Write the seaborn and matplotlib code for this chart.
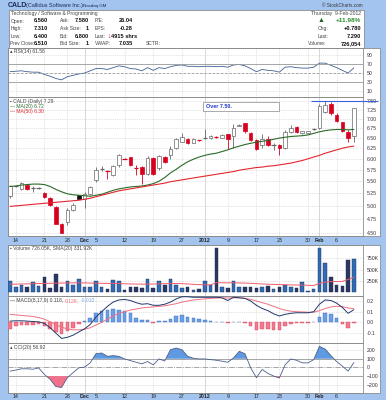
import numpy as np
import matplotlib
matplotlib.use("Agg")
import matplotlib.pyplot as plt
import matplotlib.transforms as mtrans
from matplotlib.patches import Rectangle
from matplotlib.ticker import NullLocator
import seaborn as sns

sns.set_style("white")
plt.rcParams["font.family"] = ["Liberation Sans", "DejaVu Sans"]

# ---- data (CALD daily, 11-Nov-2011 .. 9-Feb-2012) ----
opens = [5.19, 5.39, 5.34, 5.42, 5.35, 5.36, 5.26, 5.16, 4.98, 4.67,
         4.69, 4.93, 5.21, 5.13, 5.24, 5.53, 5.76, 5.72, 5.64, 5.85,
         6.00, 6.03, 5.80, 5.82, 5.66, 6.02, 5.78, 6.05, 6.08, 6.26,
         6.41, 6.48, 6.38, 6.44, 6.50, 6.49, 6.52, 6.51, 6.60, 6.55,
         6.81, 6.89, 6.64, 6.46, 6.34, 6.48, 6.34, 6.34, 6.26, 6.66,
         6.78, 6.62, 6.62, 6.73, 6.75, 7.20, 7.41, 7.11, 6.91, 6.66, 6.56]
highs = [5.42, 5.41, 5.48, 5.43, 5.40, 5.38, 5.27, 5.17, 4.99, 4.68,
         4.96, 5.05, 5.22, 5.27, 5.39, 5.82, 5.83, 5.75, 5.85, 6.10,
         6.01, 6.04, 5.85, 5.84, 6.06, 6.03, 6.08, 6.06, 6.30, 6.50,
         6.64, 6.49, 6.49, 6.45, 6.72, 6.57, 6.56, 6.61, 6.61, 6.87,
         6.86, 6.90, 6.66, 6.48, 6.60, 6.55, 6.37, 6.36, 6.70, 6.85,
         6.80, 6.68, 6.69, 6.77, 7.42, 7.51, 7.47, 7.15, 6.93, 6.70, 7.31]
lows = [5.16, 5.37, 5.32, 5.32, 5.28, 5.33, 5.16, 4.99, 4.66, 4.50,
        4.64, 4.90, 5.13, 4.96, 5.22, 5.48, 5.72, 5.54, 5.62, 5.82,
        5.99, 5.84, 5.63, 5.44, 5.64, 5.64, 5.75, 5.91, 5.99, 6.24,
        6.40, 6.36, 6.37, 6.43, 6.48, 6.47, 6.49, 6.49, 6.22, 6.25,
        6.80, 6.64, 6.42, 6.20, 6.25, 6.30, 6.20, 6.08, 6.24, 6.62,
        6.64, 6.60, 6.60, 6.70, 6.73, 7.15, 7.12, 6.92, 6.66, 6.41, 6.40]
closes = [5.39, 5.39, 5.46, 5.33, 5.35, 5.36, 5.17, 5.01, 4.67, 4.51,
          4.93, 5.02, 5.14, 5.24, 5.37, 5.75, 5.76, 5.72, 5.83, 6.08,
          6.00, 5.85, 5.80, 5.65, 6.02, 5.65, 6.06, 5.92, 6.24, 6.48,
          6.52, 6.37, 6.47, 6.44, 6.50, 6.55, 6.52, 6.58, 6.48, 6.77,
          6.84, 6.67, 6.44, 6.22, 6.48, 6.33, 6.34, 6.26, 6.66, 6.76,
          6.66, 6.67, 6.68, 6.73, 7.36, 7.39, 7.15, 6.95, 6.68, 6.51, 7.29]
ma20 = [5.39, 5.40, 5.42, 5.43, 5.44, 5.44, 5.43, 5.39, 5.33, 5.28,
        5.24, 5.22, 5.21, 5.20, 5.19, 5.21, 5.23, 5.27, 5.31, 5.34,
        5.36, 5.38, 5.39, 5.40, 5.42, 5.45, 5.50, 5.58, 5.68, 5.76,
        5.85, 5.93, 5.99, 6.04, 6.08, 6.11, 6.13, 6.17, 6.21, 6.26,
        6.30, 6.34, 6.37, 6.40, 6.42, 6.44, 6.47, 6.50, 6.52, 6.54,
        6.55, 6.56, 6.58, 6.62, 6.66, 6.69, 6.71, 6.72, 6.72, 6.71, 6.72]
ma50 = [4.99, 5.00, 5.01, 5.02, 5.03, 5.04, 5.05, 5.06, 5.07, 5.08,
        5.09, 5.10, 5.11, 5.13, 5.15, 5.18, 5.21, 5.24, 5.27, 5.30,
        5.32, 5.34, 5.36, 5.38, 5.40, 5.42, 5.44, 5.46, 5.49, 5.51,
        5.53, 5.55, 5.57, 5.59, 5.61, 5.63, 5.65, 5.67, 5.69, 5.71,
        5.74, 5.76, 5.78, 5.80, 5.81, 5.83, 5.84, 5.86, 5.88, 5.90,
        5.93, 5.96, 6.00, 6.04, 6.08, 6.13, 6.17, 6.21, 6.25, 6.28, 6.30]
volume_k = [250, 125, 162, 110, 221, 147, 338, 88, 404, 125,
            250, 162, 294, 125, 125, 250, 110, 81, 272, 250,
            51, 125, 125, 96, 287, 96, 250, 162, 301, 162,
            103, 110, 51, 66, 250, 162, 970, 110, 96, 250,
            125, 125, 125, 103, 125, 140, 74, 125, 162, 110,
            96, 221, 37, 81, 970, 640, 343, 162, 140, 713, 726]
vol_sma_k = [180, 182, 185, 188, 192, 195, 198, 200, 204, 206,
             208, 210, 210, 208, 205, 202, 200, 198, 196, 194,
             190, 186, 184, 182, 182, 184, 188, 192, 196, 196,
             192, 185, 178, 170, 168, 165, 215, 212, 210, 212,
             208, 205, 200, 192, 186, 180, 176, 172, 168, 165,
             162, 160, 156, 152, 195, 225, 238, 240, 242, 285, 332]
rsi = [53, 54, 55, 53, 52, 52, 47, 43, 38, 35,
       42, 45, 48, 50, 55, 60, 60, 58, 62, 66,
       64, 60, 59, 55, 62, 56, 62, 60, 64, 67,
       68, 65, 65, 64, 65, 65, 64, 65, 63, 68,
       69, 66, 60, 53, 58, 56, 55, 52, 63, 64,
       62, 61, 61, 63, 72, 72, 67, 62, 56, 50, 61.56]
macd = [0.012, 0.015, 0.015, 0.012, 0.008, 0.005, -0.01, -0.05, -0.10, -0.15,
        -0.14, -0.12, -0.09, -0.06, -0.02, 0.05, 0.10, 0.15, 0.19, 0.21,
        0.215, 0.205, 0.185, 0.17, 0.175, 0.16, 0.16, 0.17, 0.19, 0.22,
        0.24, 0.24, 0.235, 0.235, 0.235, 0.235, 0.235, 0.23, 0.205, 0.235,
        0.23, 0.225, 0.20, 0.16, 0.13, 0.11, 0.08, 0.06, 0.075, 0.085,
        0.09, 0.09, 0.09, 0.10, 0.17, 0.21, 0.205, 0.18, 0.14, 0.085, 0.118]
signal = [0.075, 0.07, 0.065, 0.06, 0.055, 0.045, 0.03, 0.005, -0.02, -0.045,
          -0.06, -0.07, -0.07, -0.065, -0.05, -0.025, 0.0, 0.03, 0.06, 0.085,
          0.10, 0.115, 0.125, 0.135, 0.14, 0.145, 0.15, 0.155, 0.165, 0.175,
          0.19, 0.20, 0.21, 0.215, 0.22, 0.225, 0.228, 0.23, 0.228, 0.23,
          0.23, 0.225, 0.215, 0.20, 0.185, 0.17, 0.15, 0.13, 0.115, 0.105,
          0.10, 0.098, 0.095, 0.095, 0.11, 0.13, 0.145, 0.15, 0.148, 0.135, 0.128]
hist = [-0.06, -0.034, -0.02, -0.02, -0.02, -0.016, -0.034, -0.066, -0.088, -0.106,
        -0.08, -0.05, -0.016, 0.012, 0.044, 0.09, 0.106, 0.12, 0.128, 0.12,
        0.106, 0.084, 0.044, 0.022, 0.022, -0.01, 0.01, 0.01, 0.028, 0.06,
        0.068, 0.052, 0.04, 0.028, 0.022, 0.016, 0.006, 0.003, -0.01, 0.004,
        0.006, -0.01, -0.034, -0.072, -0.066, -0.066, -0.072, -0.072, -0.034, -0.016,
        -0.01, -0.006, -0.006, 0.0, 0.052, 0.084, 0.075, 0.038, -0.019, -0.05, -0.010]
cci = [-42, -30, -15, -15, -20, -5, -80, -136, -219, -230,
       -117, -60, -4, 4, 53, 158, 166, 128, 136, 128,
       98, 79, 60, 42, 68, 30, 98, 75, 204, 223,
       204, 128, 106, 98, 98, 90, 83, 72, 60, 109,
       185, 158, -4, -117, -23, -68, -98, -121, 30, 98,
       83, 53, 53, 90, 242, 211, 136, 68, 15, -42, 56.92]

date_ticks = [1, 6, 10, 13, 15, 20, 25, 30, 34, 38, 43, 47, 52, 54, 57]
date_labels = ["14", "21", "28", "Dec", "5", "12", "19", "27", "2012",
               "9", "17", "23", "30", "Feb", "6"]
month_ticks = [13, 34, 54]
price_ticks = [4.50, 4.75, 5.00, 5.25, 5.50, 5.75, 6.00, 6.25, 6.50,
               6.75, 7.00, 7.25, 7.50]
alert_level = 7.50

idx = np.arange(len(closes))
o = np.array(opens); h = np.array(highs); l = np.array(lows); c = np.array(closes)
prev = np.r_[c[0] - 0.01, c[:-1]]
down = c < prev

BG = "#a3c4ee"
FRAME = "#8c8c8c"
GRID = "#c9c9c9"
RED = "#d8001f"
W, H = 386, 400

fig = plt.figure(figsize=(W / 100, H / 100), dpi=100)
fig.patch.set_facecolor(BG)


def pax(x0, y0, x1, y1):
    return fig.add_axes([x0 / W, 1 - y1 / H, (x1 - x0) / W, (y1 - y0) / H])


bg = pax(0, 0, W, H)
bg.set_xlim(0, W); bg.set_ylim(H, 0); bg.axis("off")
bg.add_patch(Rectangle((8, 48), 372, 188, fc="white", ec=FRAME, lw=0.6))
bg.add_patch(Rectangle((8, 245), 372, 148, fc="white", ec=FRAME, lw=0.6))
bg.add_patch(Rectangle((9, 10), 355, 38, fc="white", ec=FRAME, lw=0.6))

ax_r = pax(8, 48, 363, 97)
ax_p = pax(8, 97, 363, 236)
ax_v = pax(8, 245, 363, 296)
ax_m = pax(8, 296, 363, 343)
ax_c = pax(8, 343, 363, 393)
panels = [ax_r, ax_p, ax_v, ax_m, ax_c]

for ax in panels:
    ax.set_facecolor("none")
    ax.set_xlim(-0.35, 61.6)
    ax.set_xticks(date_ticks)
    ax.tick_params(axis="x", length=0, labelbottom=False)
    ax.yaxis.tick_right()
    ax.tick_params(axis="y", length=0, pad=2.5, labelsize=3.7, labelcolor="#333333")
    ax.grid(True, color=GRID, ls=":", lw=0.5)
    for t in month_ticks:
        ax.axvline(t, color="#d0d0d0", lw=0.5, zorder=0)
    for s in ax.spines.values():
        s.set_color(FRAME); s.set_linewidth(0.6)

# ---- RSI ----
sns.lineplot(x=idx, y=rsi, ax=ax_r, color="#3f5f95", lw=0.6)
ax_r.set_ylim(-3, 105.5)
ax_r.set_yticks([10, 30, 50, 70, 90])
ax_r.axhline(70, color="#9a9a9a", lw=0.6)
ax_r.axhline(30, color="#9a9a9a", lw=0.6)
ax_r.axhline(50, color="#9a9a9a", lw=0.6, ls=(0, (3, 2)))

# ---- price candles ----
ax_p.set_yscale("log")
for i in idx:
    if down[i]:
        col = RED
    else:
        col = "#111111" if c[i] < o[i] else "#666666"
    ax_p.vlines(i, l[i], h[i], color=col, lw=0.6, zorder=3)
    if abs(c[i] - o[i]) < 0.015:
        ax_p.hlines(c[i], i - 0.38, i + 0.38, color=col, lw=0.9, zorder=4)
    else:
        fill = col if c[i] < o[i] else "white"
        ax_p.bar(i, abs(c[i] - o[i]), bottom=min(o[i], c[i]), width=0.62,
                 color=fill, edgecolor=col, lw=0.5, zorder=4)
sns.lineplot(x=idx, y=ma20, ax=ax_p, color="#2a6b2a", lw=0.8, zorder=5)
sns.lineplot(x=idx, y=ma50, ax=ax_p, color="#e3262e", lw=0.8, zorder=5)
ax_p.hlines(alert_level, 52.6, 64.2, color="#3d5fe0", lw=0.8, zorder=6, clip_on=False)
ax_p.set_ylim(4.45, 7.62)
ax_p.set_yticks(price_ticks)
ax_p.set_yticklabels([f"{t:.2f}" for t in price_ticks])
ax_p.yaxis.set_minor_locator(NullLocator())

# ---- volume ----
vol = np.array(volume_k) * 1000
vcol = np.where(down, "#2b3760", "#2f6cb4")
ax_v.bar(idx, vol, width=0.62, color=vcol, edgecolor="#1e2e55", lw=0.3, zorder=3)
sns.lineplot(x=idx, y=np.array(vol_sma_k) * 1000, ax=ax_v, color="#f05a6a", lw=0.7, zorder=4)
ax_v.set_ylim(-80e3, 1.045e6)
ax_v.set_yticks([250e3, 500e3, 750e3])
ax_v.set_yticklabels(["250K", "500K", "750K"])

# ---- MACD ----
hv = np.array(hist)
ax_m.bar(idx, hv, width=0.62, color=np.where(hv >= 0, "#6b9fe6", "#f27a8e"),
         edgecolor=np.where(hv >= 0, "#3d6cc0", "#d54860"), lw=0.3, zorder=3)
sns.lineplot(x=idx, y=signal, ax=ax_m, color="#f0707e", lw=0.7, zorder=4)
sns.lineplot(x=idx, y=macd, ax=ax_m, color="#22386c", lw=0.7, zorder=5)
ax_m.set_ylim(-0.193, 0.247)
ax_m.set_yticks([-0.1, 0.0, 0.1, 0.2])
ax_m.set_yticklabels(["-0.1", "0.0", "0.1", "0.2"])

# ---- CCI ----
cv = np.array(cci, dtype=float)
ax_c.fill_between(idx, cv, 100, where=cv > 100, interpolate=True, color="#5f9ae0", lw=0, zorder=3)
ax_c.fill_between(idx, cv, -100, where=cv < -100, interpolate=True, color="#f2718a", lw=0, zorder=3)
sns.lineplot(x=idx, y=cv, ax=ax_c, color="#4b5f8c", lw=0.6, zorder=4)
ax_c.axhline(100, color="#9a9a9a", lw=0.6)
ax_c.axhline(-100, color="#9a9a9a", lw=0.6)
ax_c.axhline(0, color="#9a9a9a", lw=0.6, ls="-.")
ax_c.set_ylim(-293, 281)
ax_c.set_yticks([-200, -100, 0, 100, 200])

# ---- date labels in the blue strips ----
for ax, yoff in [(ax_p, -4.6 / 139), (ax_c, -3.6 / 50)]:
    tr = mtrans.blended_transform_factory(ax.transData, ax.transAxes)
    for t, lab in zip(date_ticks, date_labels):
        ax.text(t, yoff, lab, transform=tr, ha="center", va="center", fontsize=3.8,
                color="#222222", fontweight="bold" if t in month_ticks else "normal")

# ---- overlay text in pixel coordinates ----
top = pax(0, 0, W, H)
top.set_xlim(0, W); top.set_ylim(H, 0); top.axis("off")
T = dict(fontsize=3.6, va="center", color="#444444")
B = dict(fontsize=4.1, va="center", color="#111111", fontweight="bold", ha="right")

top.text(8, 5.5, "CALD", fontsize=5.0, fontweight="bold", va="center", color="#1a2a55")
top.text(25.5, 5.5, "(Callidus Software Inc.)", fontsize=4.0, va="center", color="#1a2a55")
top.text(83, 5.5, "Nasdaq GM", fontsize=3.2, va="center", color="#1a2a55")
top.text(363, 5.5, "© StockCharts.com", fontsize=3.3, va="center", ha="right", color="#333333")

top.text(11, 14, "Technology / Software & Programming", **T)
rows = [21, 28.5, 36, 43.5]
for y, a, av, b, bv, cl in zip(rows,
                               ["Open:", "High:", "Low:", "Prev Close:"],
                               ["6.560", "7.310", "6.400", "6.510"],
                               ["Ask:", "Ask Size:", "Bid:", "Bid Size:"],
                               ["7.580", "1", "6.800", "1"],
                               ["P/E:", "EPS:", "Last:", "VWAP:"]):
    top.text(10.5, y, a, **(T | {"fontsize": 3.3 if a == "Prev Close:" else 3.6}))
    top.text(48, y, av, **B)
    top.text(60, y, b, **T)
    top.text(89, y, bv, **B)
    top.text(95, y, cl, **T)
top.text(133, 21, "26.04", **B)
top.text(133, 28.5, "-0.28", **B)
top.text(109, 36, "\u2193", fontsize=5, va="center", ha="center", color=RED, fontweight="bold")
top.text(111, 36, "4915 shrs", fontsize=4.1, va="center", color="#111111", fontweight="bold")
top.text(133, 43.5, "7.035", **B)
top.text(146, 43.5, "SCTR:", **T)

top.text(361, 14, "Thursday  9-Feb-2012", ha="right", **T)
top.text(321, 21, "\u25b2", fontsize=5, va="center", ha="center", color="#1e5e1e")
top.text(361, 21, "+11.98%", fontsize=4.6, va="center", ha="right", color="#2a8a2a", fontweight="bold")
for y, a, v in zip(rows[1:], ["Chg:", "Last:", "Volume:"], ["+0.780", "7.290", "726,054"]):
    top.text(318 if a != "Volume:" else 308, y, a, **T)
    top.text(361, y, v, **B)

P = dict(fontsize=3.6, va="center")
top.text(10, 51.5, "\u25b4 RSI(14) 61.56", color="#444444", **P)
top.text(10, 101, "\u25aa CALD (Daily) 7.29", color="#444444", **P)
top.text(10, 106.5, "\u2014 MA(20) 6.72", color="#2a6b2a", **P)
top.text(10, 111.5, "\u2014 MA(50) 6.30", color="#e3262e", **P)
top.text(10, 248.5, "\u25aa Volume 726.05K, SMA(20) 331.92K", color="#444444", **P)
top.text(10, 347, "\u25b4 CCI(20) 56.92", color="#444444", **P)

# MACD legend: three coloured pieces placed one after another
fig.canvas.draw()
renderer = fig.canvas.get_renderer()
inv = top.transData.inverted()
x_next = 10
for part, col in [("\u2014 MACD(8,17,9) 0.118,", "#444444"), ("0.128,", "#f0707e"), ("-0.010", "#7fa6e8")]:
    t = top.text(x_next, 300.5, part, color=col, **P)
    bb = t.get_window_extent(renderer)
    x_next = inv.transform((bb.x1, bb.y0))[0] + 2

top.add_patch(Rectangle((203, 102), 76, 9, fc="white", ec="#888888", lw=0.5))
top.text(206, 106.5, "Over 7.50.", fontsize=3.9, va="center", color="#2036c8", fontweight="bold")

fig.savefig("out.png", dpi=100, facecolor=fig.get_facecolor())
